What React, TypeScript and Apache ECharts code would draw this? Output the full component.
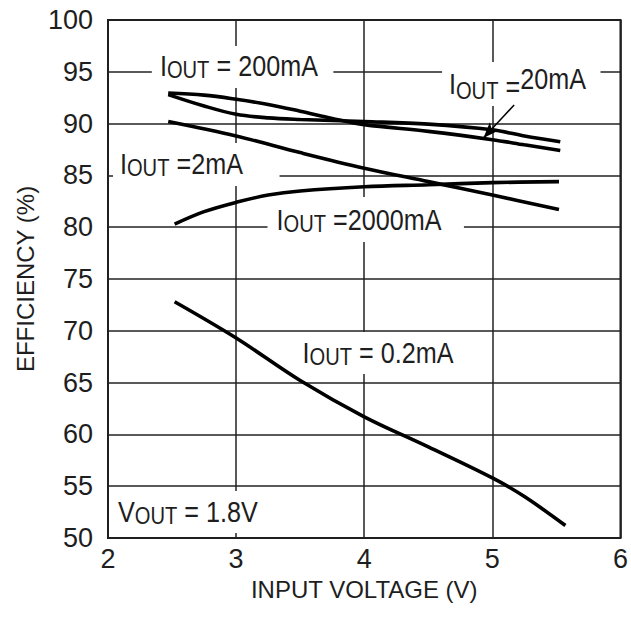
import React, { useEffect, useRef } from 'react';
import * as echarts from 'echarts';

// ---- data (input voltage V, efficiency %) ----
const xTickMin = 2;
const xTickMax = 6;
const yTickMin = 50;
const yTickMax = 100;

const current200mA = [[2.47, 92.8], [2.75, 91.7], [3, 90.9], [3.25, 90.55], [3.5, 90.4], [4, 90.2], [4.5, 89.95], [5, 89.4], [5.25, 88.8], [5.53, 88.25]];
const current20mA = [[2.47, 92.95], [2.75, 92.75], [3, 92.35], [3.25, 91.85], [3.5, 91.2], [3.75, 90.5], [4, 89.9], [4.5, 89.25], [5, 88.45], [5.25, 87.95], [5.53, 87.4]];
const current2mA = [[2.47, 90.2], [3, 88.8], [3.5, 87.2], [4, 85.7], [4.5, 84.4], [5, 83.1], [5.52, 81.7]];
const current2000mA = [[2.52, 80.3], [2.75, 81.5], [3, 82.4], [3.25, 83.1], [3.5, 83.5], [4, 83.9], [4.5, 84.1], [5, 84.3], [5.52, 84.4]];
const current0p2mA = [[2.52, 72.8], [3, 69.3], [3.5, 65.2], [4, 61.7], [4.5, 58.8], [5, 55.8], [5.25, 54.0], [5.57, 51.2]];

// arrow pointing at the 20mA curve
const arrow20mAFrom = [5.17, 91.8];
const arrow20mATo = [4.93, 88.6];

// annotation labels: anchor (left, middle) in data units, white knock-out box corners in data units
const labelTexts = [
  { rich: '{m|I}{s|OUT}{m| = 200mA}', anchor: [2.405, 95.56], box: [[2.342, 97.49], [3.759, 93.44]] },
  { rich: '{m|I}{s|OUT}{m| =2mA}', anchor: [2.093, 86.1], box: [[2.039, 88.13], [3.339, 83.98]] },
  { rich: '{m|I}{s|OUT}{m| =2000mA}', anchor: [3.315, 80.7], box: [[3.245, 82.92], [4.778, 78.57]] },
  { rich: '{d|I}{s|OUT}{e| =}{r|20mA}', anchor: [4.661, 93.9], box: [[4.607, 95.95], [5.844, 91.7]] },
  { rich: '{m|I}{s|OUT}{m| = 0.2mA}', anchor: [3.518, 67.86], box: [[3.494, 69.88], [4.708, 65.83]] },
  { rich: '{m|V}{s|OUT}{m| = 1.8V}', anchor: [2.078, 52.5], box: [[2.031, 54.54], [3.167, 50.48]] },
];

const FONT = '"Liberation Sans", Arial, Helvetica, sans-serif';
const INK = '#1e1e1e';

export default function App() {
  const ref = useRef<HTMLDivElement>(null);

  useEffect(() => {
    if (!ref.current) return;
    const chart = echarts.init(ref.current, null, { renderer: 'svg' });

    const lineSeries = (name: string, data: number[][], extra: any = {}) => ({
      type: 'line',
      name,
      data,
      smooth: 0.35,
      symbol: 'none',
      lineStyle: { color: '#000', width: 3.6 },
      z: 3,
      ...extra,
    });

    chart.setOption({
      animation: false,
      backgroundColor: '#fff',
      grid: {
        left: 108,
        right: 9,
        top: 20,
        bottom: 80,
        show: true,
        borderColor: '#1a1a1a',
        borderWidth: 2,
        backgroundColor: 'transparent',
      },
      xAxis: {
        type: 'value',
        min: xTickMin,
        max: xTickMax,
        interval: 1,
        axisLine: { show: false },
        axisTick: { show: false },
        splitLine: { show: true, lineStyle: { color: '#222', width: 1.5 } },
        axisLabel: { fontSize: 27, fontFamily: FONT, color: INK, margin: 7 },
        name: 'INPUT VOLTAGE (V)',
        nameLocation: 'middle',
        nameGap: 39,
        nameTextStyle: { fontSize: 24, fontFamily: FONT, color: INK },
      },
      yAxis: {
        type: 'value',
        min: yTickMin,
        max: yTickMax,
        interval: 5,
        axisLine: { show: false },
        axisTick: { show: false },
        splitLine: { show: true, lineStyle: { color: '#222', width: 1.5 } },
        axisLabel: { fontSize: 27, fontFamily: FONT, color: INK, margin: 15 },
        name: 'EFFICIENCY (%)',
        nameLocation: 'middle',
        nameGap: 71,
        nameTextStyle: { fontSize: 24, fontFamily: FONT, color: INK },
      },
      series: [
        lineSeries('IOUT = 200mA', current200mA),
        lineSeries('IOUT = 20mA', current20mA, {
          markLine: {
            silent: true,
            symbol: ['none', 'arrow'],
            symbolSize: [9, 16],
            label: { show: false },
            lineStyle: { color: '#000', width: 1.5, type: 'solid' },
            data: [[{ coord: arrow20mAFrom }, { coord: arrow20mATo }]],
          },
        }),
        lineSeries('IOUT = 2mA', current2mA),
        lineSeries('IOUT = 2000mA', current2000mA),
        lineSeries('IOUT = 0.2mA', current0p2mA),
      ],
    });

    const toPx = (p: number[]) => chart.convertToPixel({ gridIndex: 0 }, p) as number[];
    const rich = {
      m: { fontSize: 30, fontFamily: FONT, color: INK, verticalAlign: 'bottom', padding: [0, 0, 1, 0] },
      s: { fontSize: 24, fontFamily: FONT, color: INK, verticalAlign: 'bottom', padding: [0, 0, 0, 0] },
      d: { fontSize: 30, fontFamily: FONT, color: INK, verticalAlign: 'bottom', padding: [0, 0, 4, 0] },
      e: { fontSize: 30, fontFamily: FONT, color: INK, verticalAlign: 'bottom', padding: [0, 0, 1, 0] },
      r: { fontSize: 30, fontFamily: FONT, color: INK, verticalAlign: 'bottom', padding: [0, 0, 9, 0] },
    };

    const graphics: any[] = [];
    labelTexts.forEach((l) => {
      const a = toPx(l.box[0]);
      const b = toPx(l.box[1]);
      graphics.push({
        type: 'rect',
        z: 1,
        silent: true,
        shape: { x: Math.min(a[0], b[0]), y: Math.min(a[1], b[1]), width: Math.abs(b[0] - a[0]), height: Math.abs(b[1] - a[1]) },
        style: { fill: '#fff' },
      });
    });
    labelTexts.forEach((l) => {
      const p = toPx(l.anchor);
      graphics.push({
        type: 'text',
        z: 2,
        silent: true,
        x: p[0],
        y: p[1],
        scaleX: 0.84,
        style: { text: l.rich, rich, align: 'left', verticalAlign: 'middle', fill: INK, fontFamily: FONT, fontSize: 30 },
      });
    });
    chart.setOption({ graphic: graphics });

    return () => chart.dispose();
  }, []);

  return <div ref={ref} style={{ width: 631, height: 618, position: 'absolute', left: 0, top: 0 }} />;
}
